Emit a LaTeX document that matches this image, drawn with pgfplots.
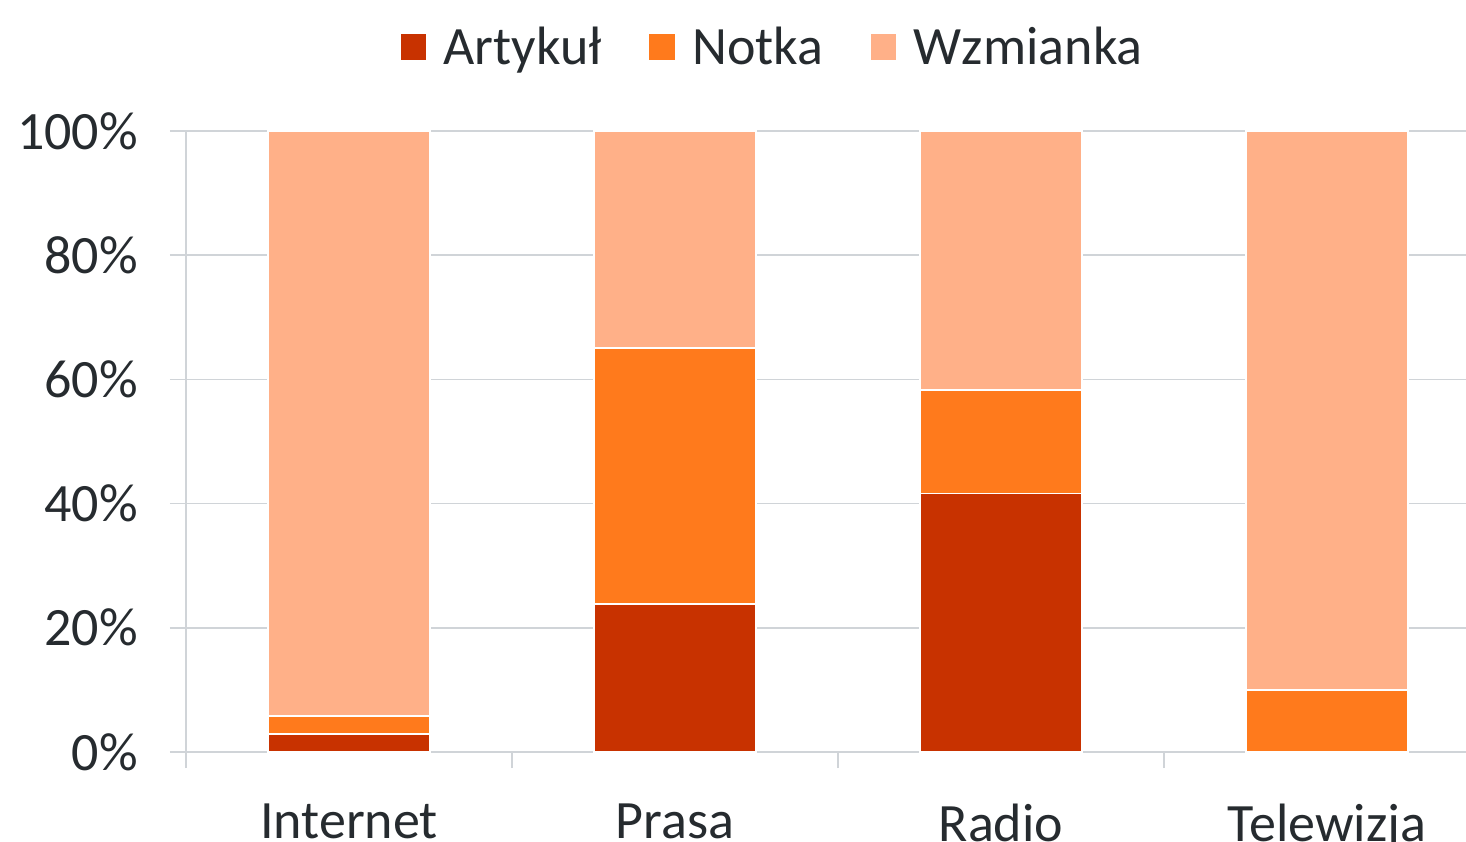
\documentclass[border=0pt]{standalone}
\usepackage{fontspec}
\setmainfont{Carlito}
\usepackage{pgfplots}
\pgfplotsset{compat=1.18}
\definecolor{cA}{HTML}{C83200}
\definecolor{cN}{HTML}{FF7A1C}
\definecolor{cW}{HTML}{FFB088}
\definecolor{gridc}{HTML}{D0D4D8}
\definecolor{txt}{HTML}{262B2F}
\begin{document}
\begin{tikzpicture}
\begin{axis}[
  at={(0,0)}, anchor=south west,
  scale only axis, width=652pt, height=310.5pt,
  xmin=-0.5, xmax=3.5, ymin=0, ymax=100,
  ybar stacked, bar width=81pt,
  axis x line*=bottom, axis y line*=left,
  axis line style={gridc, line width=0.8pt},
  every tick/.style={gridc, line width=0.8pt},
  tick align=outside, major tick length=8pt,
  ytick={0,20,40,60,80,100},
  ymajorgrids, grid style={gridc, line width=0.8pt},
  yticklabel={\pgfmathprintnumber{\tick}\%},
  /pgf/number format/assume math mode=true,
  ticklabel style={font=\fontsize{27}{32}\selectfont, text=txt},
  yticklabel style={xshift=-12.5pt},
  xtick={-0.5,0.5,1.5,2.5,3.5}, xticklabels={},
  extra x ticks={0,1,2,3},
  extra x tick labels={Internet,Prasa,Radio,Telewizja},
  extra x tick style={major tick length=0pt, xticklabel style={yshift=-22.5pt}},
  legend columns=3,
  legend style={at={(axis description cs:0.450,1.135)}, anchor=center, draw=none, fill=none,
    font=\fontsize{27}{32}\selectfont, text=txt,
    /tikz/every odd column/.append style={column sep=6pt},
    /tikz/every even column/.append style={column sep=21pt}},
  legend image code/.code={\fill[#1] (0pt,-6.75pt) rectangle (13.5pt,6.75pt);},
  every axis plot/.append style={draw=white, line width=0.8pt},
]
\addplot[fill=cA, draw=white] coordinates {(0,2.9) (1,23.8) (2,41.6) (3,0)};
\addplot[fill=cN, draw=white] coordinates {(0,2.9) (1,41.3) (2,16.7) (3,10.0)};
\addplot[fill=cW, draw=white] coordinates {(0,94.2) (1,34.9) (2,41.7) (3,90.0)};
\legend{Artykuł,Notka,Wzmianka}
\end{axis}
\pgfresetboundingbox
\useasboundingbox (-93pt,-44.5pt) rectangle (640pt,376pt);
\end{tikzpicture}
\end{document}
